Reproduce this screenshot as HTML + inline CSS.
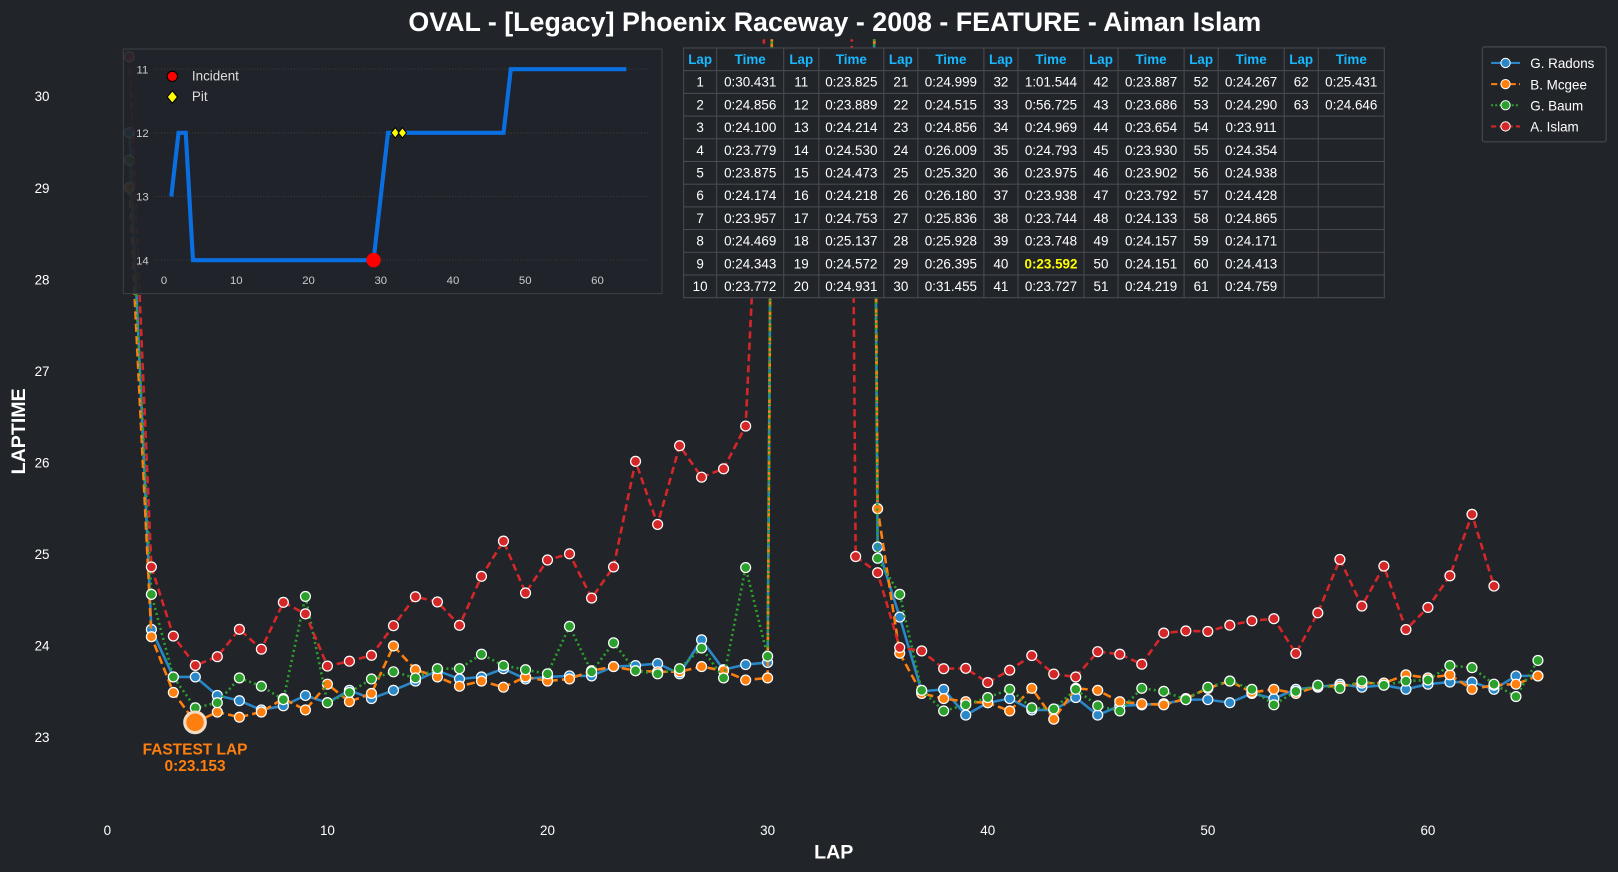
<!DOCTYPE html>
<html><head><meta charset="utf-8">
<style>
html,body{margin:0;padding:0;background:#212429;}
body{width:1618px;height:872px;overflow:hidden;position:relative;font-family:"Liberation Sans",sans-serif;color:#fff;}
#w{position:absolute;left:0;top:0;width:1568px;height:845px;transform:scale(1.03189);transform-origin:0 0;}
svg{position:absolute;left:0;top:0;}
table{position:absolute;left:662px;top:46px;border-collapse:collapse;font-size:13px;table-layout:fixed;width:679px;background:#212429;}
td,th{border:1px solid #4a4d52;height:21px;padding:0;text-align:center;color:#fff;font-weight:normal;background:#212429;}
th{color:#19b8ff;font-weight:bold;}
</style></head><body>
<div id="w">
<svg id="s" width="1568" height="845" xmlns="http://www.w3.org/2000/svg"></svg>
<table id="t"></table>
</div>
<script>
const S=document.getElementById('s');let h='';
const X=l=>104+l*21.33, Y=v=>714-(v-23)*88.7;
h+='<text x="809" y="30" fill="#fff" font-size="26" font-weight="bold" text-anchor="middle">OVAL - [Legacy] Phoenix Raceway - 2008 - FEATURE - Aiman Islam</text>';
for(let v=23;v<=30;v++)h+=`<text x="48" y="${Y(v)+5}" fill="#fff" font-size="13" text-anchor="end">${v}</text>`;
for(let l=0;l<=60;l+=10)h+=`<text x="${X(l)}" y="809" fill="#fff" font-size="13" text-anchor="middle">${l}</text>`;
h+='<text x="808" y="832" fill="#fff" font-size="19" font-weight="bold" text-anchor="middle">LAP</text>';
h+='<text transform="translate(24,418) rotate(-90)" fill="#fff" font-size="19" font-weight="bold" text-anchor="middle">LAPTIME</text>';
const py=p=>23+(714-p)/88.7;
const islam=[30.431,24.856,24.100,23.779,23.875,24.174,23.957,24.469,24.343,23.772,23.825,23.889,24.214,24.530,24.473,24.218,24.753,25.137,24.572,24.931,24.999,24.515,24.856,26.009,25.320,26.180,25.836,25.928,26.395,31.455,null,61.544,56.725,24.969,24.793,23.975,23.938,23.744,23.748,23.592,23.727,23.887,23.686,23.654,23.930,23.902,23.792,24.133,24.157,24.151,24.219,24.267,24.290,23.911,24.354,24.938,24.428,24.865,24.171,24.413,24.759,25.431,24.646];
function mk(first,a,b){return [first].concat(a.map(py),[60,60,60,60],b.map(py));}
const blue=mk(29.6,[610,656,656,674,679,688,684,674,681,669,677,669,660,650,658,656,648,658,656,655,655,646,645,643,653,620,649,644,642],[530,598,670,668,693,681,677,688,688,676,693,684,683,682,678,678,681,672,677,668,666,663,666,664,668,663,661,661,668,655,655]);
const orange=mk(29.0,[617,671,700,690,695,690,677,688,663,680,672,626,649,656,665,660,666,656,660,658,650,646,650,651,651,646,650,659,657],[493,633,672,677,680,681,689,667,697,667,669,680,682,683,677,667,660,671,668,672,665,665,662,662,654,657,654,668,664,663,655]);
const green=mk(29.3,[576,656,686,681,657,665,678,578,681,671,658,651,657,648,648,634,645,649,653,607,651,623,650,653,648,628,657,550,636],[541,576,669,689,683,676,668,686,687,668,684,689,667,670,678,666,660,668,683,670,664,667,660,664,660,659,645,647,663,675,640]);
h+='<defs><clipPath id="c"><rect x="95" y="38" width="1420" height="760"/></clipPath></defs><g clip-path="url(#c)">';
function series(d,col,dash){let segs=[],cur=[];d.forEach((v,i)=>{if(v==null){if(cur.length)segs.push(cur);cur=[];}else cur.push([X(i+1),Y(v)]);});if(cur.length)segs.push(cur);
segs.forEach(s=>{h+=`<polyline points="${s.map(p=>p[0].toFixed(1)+','+p[1].toFixed(1)).join(' ')}" fill="none" stroke="${col}" stroke-width="2.5" ${dash?'stroke-dasharray="'+dash+'"':''}/>`;});
d.forEach((v,i)=>{if(v!=null&&v<31)h+=`<circle cx="${X(i+1).toFixed(1)}" cy="${Y(v).toFixed(1)}" r="4.8" fill="${col}" stroke="#fff" stroke-width="1.2"/>`;});}
series(blue,'#2a87c8','');series(orange,'#ff7f0e','8,4');series(green,'#2ca02c','2,3');series(islam,'#d62728','7,4');
h+='</g>';
h+=`<circle cx="189" cy="700" r="10" fill="#ff7f0e" stroke="#f3dcc4" stroke-width="3"/>`;
h+='<text x="189" y="731" fill="#ff7f0e" font-size="15" font-weight="bold" text-anchor="middle">FASTEST LAP</text><text x="189" y="747" fill="#ff7f0e" font-size="15" font-weight="bold" text-anchor="middle">0:23.153</text>';
h+='<rect x="119.5" y="47.5" width="522" height="237" fill="#212429" fill-opacity="0.92" stroke="#3d4045"/>';
const IX=l=>159+l*7, IY=v=>67+(v-11)*61.7;
for(let v=11;v<=14;v++){h+=`<line x1="150" x2="628" y1="${IY(v)}" y2="${IY(v)}" stroke="#3c3f44" stroke-dasharray="1,2"/><text x="138" y="${IY(v)+4}" fill="#ccc" font-size="11" text-anchor="middle">${v}</text>`;}
for(let l=0;l<=60;l+=10)h+=`<text x="${IX(l)}" y="275" fill="#ccc" font-size="11" text-anchor="middle">${l}</text>`;
const ip=[[1,13],[2,12],[3,12],[4,14],[29,14],[31,12],[47,12],[48,11],[64,11]];
h+=`<polyline points="${ip.map(p=>IX(p[0])+','+IY(p[1])).join(' ')}" fill="none" stroke="#0a6fe0" stroke-width="4"/>`;
h+=`<circle cx="${IX(29)}" cy="${IY(14)}" r="7" fill="#f00"/>`;
[32,33].forEach(l=>{const x=IX(l),y=IY(12);h+=`<polygon points="${x},${y-5} ${x+4},${y} ${x},${y+5} ${x-4},${y}" fill="#ff0" stroke="#000" stroke-width="1"/>`;});
h+='<circle cx="167" cy="74" r="5" fill="#f00" stroke="#000"/><text x="186" y="78" fill="#ddd" font-size="13">Incident</text>';
h+='<polygon points="167,88 172,94 167,100 162,94" fill="#ff0" stroke="#000"/><text x="186" y="98" fill="#ddd" font-size="13">Pit</text>';
h+='<rect x="1436.5" y="45.5" width="120" height="92" fill="#212429" stroke="#4a4d52" rx="2"/>';
[['G. Radons','#2a87c8',''],['B. Mcgee','#ff7f0e','6,3'],['G. Baum','#2ca02c','2,2'],['A. Islam','#d62728','5,3']].forEach((e,i)=>{const y=61+i*20.5;h+=`<line x1="1445" x2="1473" y1="${y}" y2="${y}" stroke="${e[1]}" stroke-width="2" ${e[2]?'stroke-dasharray="'+e[2]+'"':''}/><circle cx="1459" cy="${y}" r="4.5" fill="${e[1]}" stroke="#fff"/><text x="1483" y="${y+5}" fill="#fff" font-size="13">${e[0]}</text>`;});
S.innerHTML=h;
const laps=[];for(let i=1;i<=63;i++)if(i!==31)laps.push([i,islam[i-1]]);
function fmt(v){const m=Math.floor(v/60),s=(v-m*60).toFixed(3);return m+':'+(s<10?'0':'')+s;}
const cw=[32,65,34,63,33,64,33,64,33,64,33,64,33,64];
let t='<colgroup>'+cw.map(w=>`<col style="width:${w}px">`).join('')+'</colgroup><tr>';for(let c=0;c<7;c++)t+=`<th>Lap</th><th>Time</th>`;t+='</tr>';
for(let r=0;r<10;r++){t+='<tr>';for(let c=0;c<7;c++){const e=laps[c*10+r];if(e){const hl=e[0]===40;t+=`<td>${e[0]}</td><td${hl?' style="color:#ff0;font-weight:bold"':''}>${fmt(e[1])}</td>`;}else t+='<td></td><td></td>';}t+='</tr>';}
document.getElementById('t').innerHTML=t;
</script>
</body></html>
